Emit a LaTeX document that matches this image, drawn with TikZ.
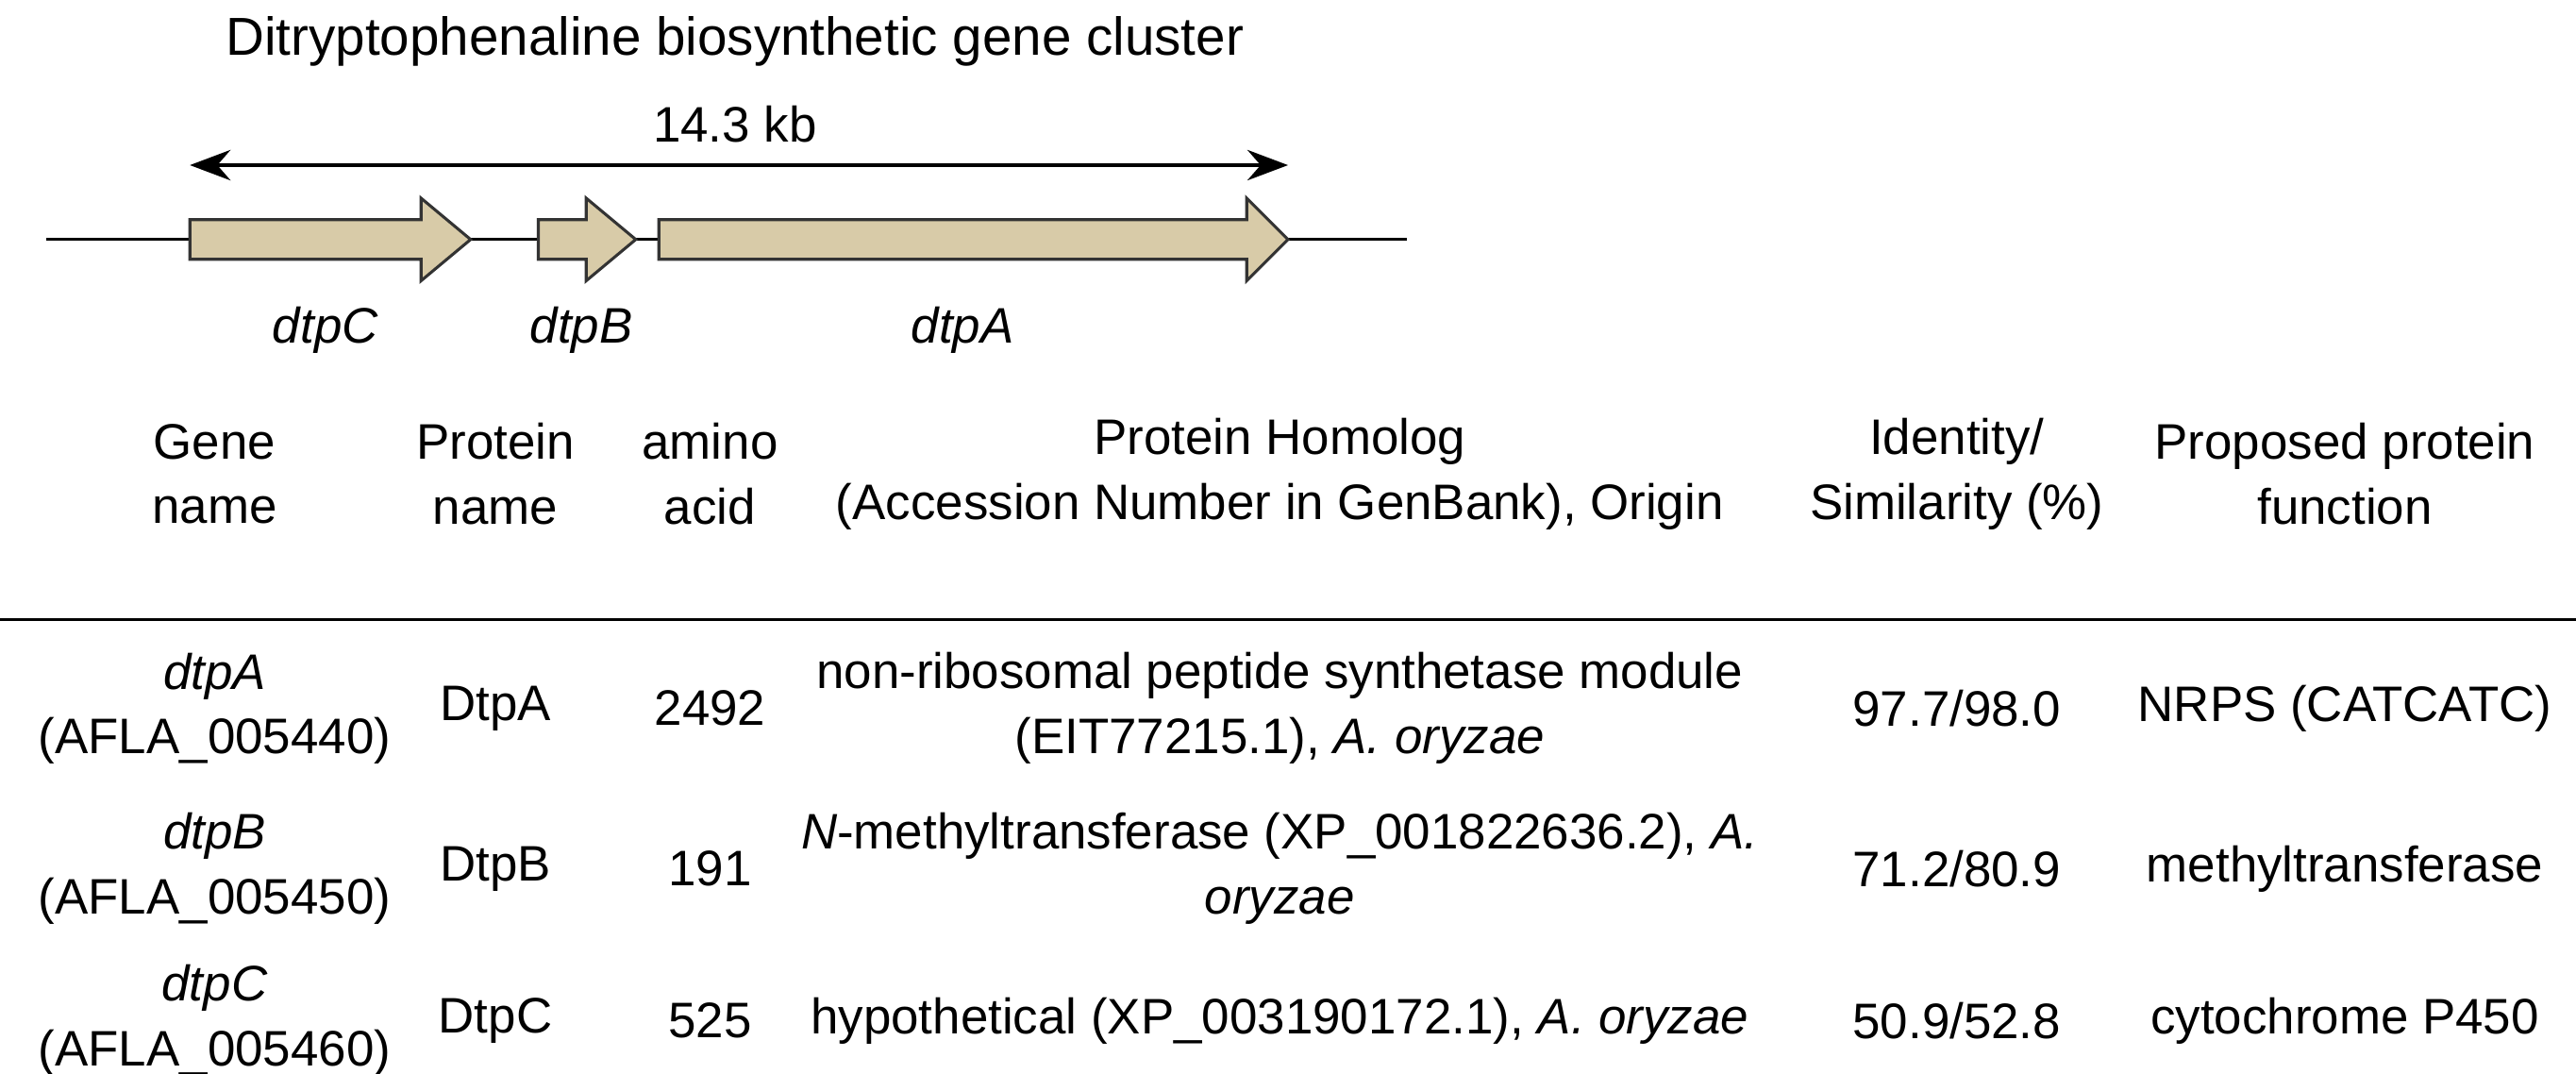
\documentclass[tikz,border=0pt]{standalone}
\usepackage{fontspec}
\setmainfont{Liberation Sans}
\usetikzlibrary{arrows.meta}
\definecolor{genetan}{RGB}{216,203,168}
\tikzset{
  gene/.style={fill=genetan,draw=black!80,line width=0.5pt},
  cell/.style={align=center,font=\fontsize{8.6}{11.2}\selectfont,inner sep=0pt},
  genelab/.style={font=\fontsize{8.6}{11}\selectfont\itshape},
}
\newcommand{\genearrow}[3]{% start, body end, tip end
  \draw[gene] (#1,-1.33) -- (#2,-1.33) -- (#2,-1.20) -- (#3,-1.45) -- (#2,-1.70) -- (#2,-1.57) -- (#1,-1.57) -- cycle;}
\begin{document}
\begin{tikzpicture}
\useasboundingbox (0,0) rectangle (15.6,-6.5);

% gene cluster
\node[cell,font=\fontsize{9.2}{11}\selectfont] (title) at (4.45,-0.25) {Ditryptophenaline biosynthetic gene cluster};
\coordinate (kbl) at (1.15,-1.0);
\coordinate (kbr) at (7.8,-1.0);
\draw[{Stealth[length=7pt]}-{Stealth[length=7pt]},line width=0.5pt] (kbl) -- (kbr);
\node[cell] (kb) at (4.45,-0.75) {14.3 kb};
\draw[line width=0.5pt] (0.28,-1.45) -- (8.52,-1.45);
\genearrow{1.15}{2.55}{2.85}
\genearrow{3.26}{3.55}{3.85}
\genearrow{3.99}{7.55}{7.8}
\node[genelab] (dtpC) at (1.97,-2.0) {dtpC};
\node[genelab] (dtpB) at (3.52,-2.0) {dtpB};
\node[genelab] (dtpA) at (5.83,-2.0) {dtpA};

% table header
\node[cell] (h1) at (1.30,-2.87) {Gene\\name};
\node[cell] (h2) at (3.00,-2.87) {Protein\\name};
\node[cell] (h3) at (4.30,-2.87) {amino\\acid};
\node[cell] (h4) at (7.75,-2.87) {Protein Homolog\\(Accession Number in GenBank), Origin};
\node[cell] (h5) at (11.85,-2.87) {Identity/\\Similarity (\%)};
\node[cell] (h6) at (14.20,-2.87) {Proposed protein\\function};
\draw[line width=0.5pt] (0,-3.75) -- (15.6,-3.75);

% rows
\node[cell] (a1) at (1.30,-4.29) {\textit{dtpA}\\(AFLA\_005440)};
\node[cell] (a2) at (3.00,-4.29) {DtpA};
\node[cell] (a3) at (4.30,-4.29) {2492};
\node[cell] (a4) at (7.75,-4.29) {non-ribosomal peptide synthetase module\\(EIT77215.1), \textit{A. oryzae}};
\node[cell] (a5) at (11.85,-4.29) {97.7/98.0};
\node[cell] (a6) at (14.20,-4.29) {NRPS (CATCATC)};

\node[cell] (b1) at (1.30,-5.26) {\textit{dtpB}\\(AFLA\_005450)};
\node[cell] (b2) at (3.00,-5.26) {DtpB};
\node[cell] (b3) at (4.30,-5.26) {191};
\node[cell] (b4) at (7.75,-5.26) {\textit{N}-methyltransferase (XP\_001822636.2), \textit{A.}\\\textit{oryzae}};
\node[cell] (b5) at (11.85,-5.26) {71.2/80.9};
\node[cell] (b6) at (14.20,-5.26) {methyltransferase};

\node[cell] (c1) at (1.30,-6.18) {\textit{dtpC}\\(AFLA\_005460)};
\node[cell] (c2) at (3.00,-6.18) {DtpC};
\node[cell] (c3) at (4.30,-6.18) {525};
\node[cell] (c4) at (7.75,-6.18) {hypothetical (XP\_003190172.1), \textit{A. oryzae}};
\node[cell] (c5) at (11.85,-6.18) {50.9/52.8};
\node[cell] (c6) at (14.20,-6.18) {cytochrome P450};
\end{tikzpicture}
\end{document}
